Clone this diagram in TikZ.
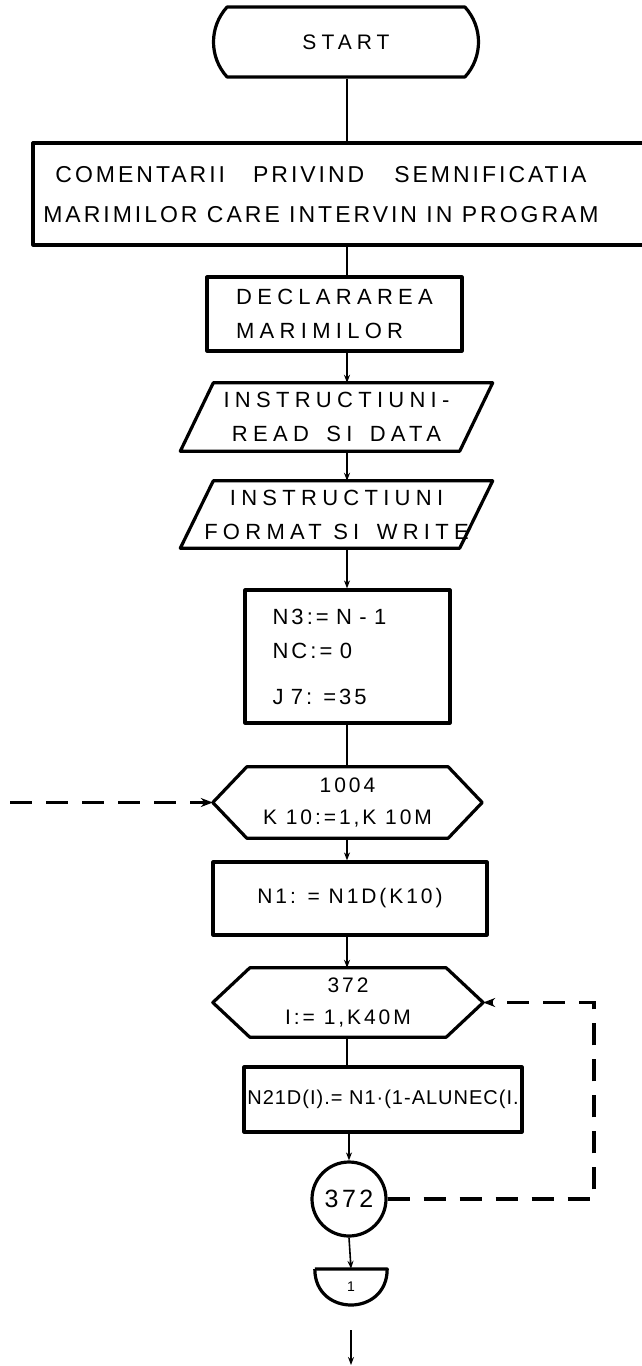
\documentclass[tikz,border=0pt]{standalone}
\usepackage{fontspec}
\setmainfont{Liberation Sans}
\newfontfamily\wordfont[LetterSpace=24]{Liberation Sans}
\newfontfamily\commentfont[LetterSpace=13]{Liberation Sans}
\newfontfamily\formfont[LetterSpace=14]{Liberation Sans}
\newfontfamily\tightfont[LetterSpace=5]{Liberation Sans}
\usetikzlibrary{shapes.misc,shapes.geometric,calc,arrows.meta}

\begin{document}
\begin{tikzpicture}[x=1pt,y=-1pt,
  outline/.style={line width=3.2pt, line join=round},
  box/.style={draw, outline, inner sep=0pt, align=center},
  plain/.style={inner sep=0pt, align=center},
  words/.style={font=\wordfont\fontsize{22}{34}\selectfont},
  formula/.style={font=\formfont\fontsize{21}{32}\selectfont},
  link/.style={line width=1.6pt},
  flow/.style={link, -{Stealth[length=8pt,width=6pt]}},
  loop/.style={line width=3.2pt, dash pattern=on 22pt off 14pt, -{Stealth[length=12pt,width=9pt]}}
]
\useasboundingbox (0,0) rectangle (641,1366);

% main flow axis
\coordinate (ax) at (347,0);

% terminal
\node[box, words, font=\wordfont\fontsize{21}{30}\selectfont, rounded rectangle,
      rounded rectangle arc length=85, minimum width=265pt, minimum height=70pt]
  (start) at (346,42) {START};

% comment block (runs off the right edge of the sheet)
\node[draw, outline, minimum width=612pt, minimum height=102pt] (comm) at (339,194) {};
\node[plain, font=\commentfont\fontsize{23}{40}\selectfont] (commtext) at (321,195)
  {COMENTARII\hspace{28pt}PRIVIND\hspace{30pt}SEMNIFICATIA\\MARIMILOR CARE INTERVIN IN PROGRAM};

% declarations
\node[box, words, align=left, minimum width=255pt, minimum height=74pt] (decl) at (334.5,314)
  {DECLARAREA\\MARIMILOR};

% input / output parallelograms
\node[plain, words, minimum width=279pt, minimum height=68pt] (read) at (336.5,417)
  {INSTRUCTIUNI-\\READ\hspace{6pt} SI\hspace{6pt} DATA};
\draw[outline] ($(read.north west)+(16.5,0)$) -- ($(read.north east)+(16.5,0)$)
  -- ($(read.south east)+(-16.5,0)$) -- ($(read.south west)+(-16.5,0)$) -- cycle;

\node[plain, words, minimum width=279pt, minimum height=67pt] (write) at (336.5,514.5)
  {INSTRUCTIUNI\\FORMAT SI\hspace{6pt} WRITE};
\draw[outline] ($(write.north west)+(16.5,0)$) -- ($(write.north east)+(16.5,0)$)
  -- ($(write.south east)+(-16.5,0)$) -- ($(write.south west)+(-16.5,0)$) -- cycle;

% initial assignments
\node[box, font=\formfont\fontsize{22}{34}\selectfont, align=left, text width=150pt,
      minimum width=205pt, minimum height=133pt]
  (init) at (347.5,656.5) {N3:= N - 1\\NC:= 0\\[12pt]J 7: =35};

% outer DO loop
\node[plain, formula, minimum width=269pt, minimum height=71pt] (do1) at (347.5,802.5)
  {1004\\K 10:=1,K 10M};
\draw[outline] (do1.west) -- ($(do1.north west)+(34,0)$) -- ($(do1.north east)+(-34,0)$)
  -- (do1.east) -- ($(do1.south east)+(-34,0)$) -- ($(do1.south west)+(34,0)$) -- cycle;

\node[box, formula, minimum width=274pt, minimum height=73pt] (n1) at (350,898.5)
  {N1: = N1D(K10)};

% inner DO loop
\node[plain, formula, minimum width=270pt, minimum height=69pt] (do2) at (348,1002.5)
  {372\\I:= 1,K40M};
\draw[outline] (do2.west) -- ($(do2.north west)+(37,0)$) -- ($(do2.north east)+(-37,0)$)
  -- (do2.east) -- ($(do2.south east)+(-37,0)$) -- ($(do2.south west)+(37,0)$) -- cycle;

\node[box, font=\tightfont\fontsize{20}{24}\selectfont, minimum width=278pt, minimum height=65pt]
  (n21) at (383,1099.5) {N21D(I).= N1·(1-ALUNEC(I.};

% loop end label
\node[box, circle, minimum size=74pt, font=\formfont\fontsize{25}{28}\selectfont]
  (end372) at (349,1199) {372};

% off-page connector
\node[plain, minimum width=72pt, minimum height=0pt] (off) at (351,1269) {};
\draw[outline] (off.west) -- (off.east) .. controls ($(off.east)+(0,48)$) and ($(off.west)+(0,48)$) .. (off.west);
\node[plain, font=\formfont\fontsize{14}{16}\selectfont] (offlabel) at (351,1287) {1};

\coordinate (out1) at (351,1330);
\coordinate (out2) at (351,1365);
\coordinate (entry) at (10,802.5);
\coordinate (back) at (594,0);

% connectors
\draw[link] (start.south -| ax) -- (comm.north -| ax);
\draw[link] (comm.south -| ax) -- (decl.north -| ax);
\draw[flow] (decl.south -| ax) -- (read.north -| ax);
\draw[flow] (read.south -| ax) -- (write.north -| ax);
\draw[flow] (write.south -| ax) -- (init.north -| ax);
\draw[link] (init.south -| ax) -- (do1.north -| ax);
\draw[flow] (do1.south -| ax) -- (n1.north -| ax);
\draw[flow] (n1.south -| ax) -- (do2.north -| ax);
\draw[link] (do2.south -| ax) -- (n21.north -| ax);
\draw[flow] (n21.south -| end372) -- (end372.north);
\draw[flow] (end372.south) -- (off.north);
\draw[flow] (out1) -- (out2);

% loop returns
\draw[loop] (entry) -- (do1.west);
\draw[loop] (end372.east) -- (end372.east -| back) -- (do2.east -| back) -- (do2.east);
\end{tikzpicture}
\end{document}
